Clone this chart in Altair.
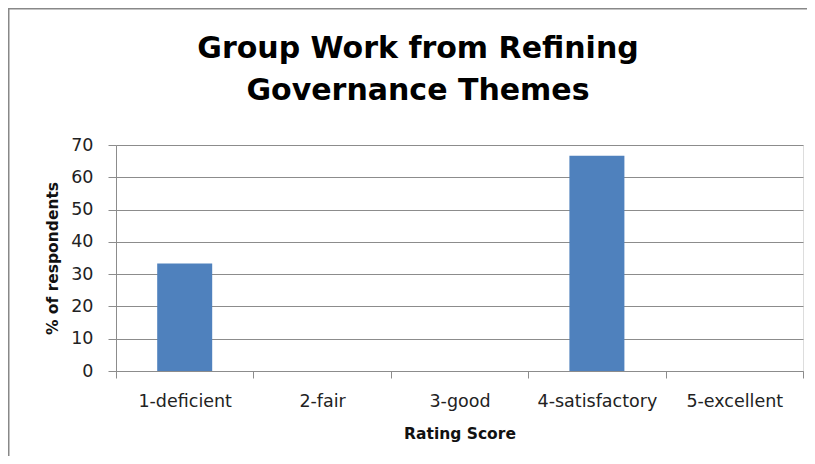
import altair as alt
import pandas as pd

categories = ["1-deficient", "2-fair", "3-good", "4-satisfactory", "5-excellent"]
percents = [33.33, 0, 0, 66.67, 0]
y_ticks = [0, 10, 20, 30, 40, 50, 60, 70]
title_lines = ["Group Work from Refining", "Governance Themes"]

df = pd.DataFrame({"Rating Score": categories, "pct": percents})
one = pd.DataFrame({"k": [0]})

FONT = "DejaVu Sans"
GRID = "#8C8C8C"
W, H = 687, 226
PL, PT = 108, 137

bars = alt.Chart(df).mark_bar(size=55, color="#4F81BD").encode(
    x=alt.X(
        "Rating Score:N",
        sort=categories,
        scale=alt.Scale(paddingInner=0, paddingOuter=0),
        axis=alt.Axis(
            title="Rating Score",
            labelAngle=0,
            labelFont=FONT,
            labelFontSize=17.5,
            labelColor="#222222",
            labelBaseline="alphabetic",
            labelPadding=28,
            tickBand="extent",
            tickSize=7,
            tickColor=GRID,
            domainColor=GRID,
            titleFont=FONT,
            titleFontSize=15.5,
            titleFontWeight="bold",
            titleColor="#111111",
            titleBaseline="alphabetic",
            titleY=67,
            grid=False,
        ),
    ),
    y=alt.Y(
        "pct:Q",
        scale=alt.Scale(domain=[0, 70], nice=False),
        axis=alt.Axis(
            title="% of respondents",
            values=y_ticks,
            labelFont=FONT,
            labelFontSize=17.5,
            labelColor="#222222",
            labelPadding=15,
            tickSize=8,
            tickColor=GRID,
            domainColor=GRID,
            gridColor=GRID,
            gridWidth=1,
            titleFont=FONT,
            titleFontSize=15.5,
            titleFontWeight="bold",
            titleColor="#111111",
            titleX=-56,
            titleY=H / 2,
        ),
    ),
)

title = alt.Chart(one).mark_text(
    font=FONT,
    fontSize=30,
    fontWeight="bold",
    color="#000000",
    align="center",
    baseline="alphabetic",
    lineHeight=42,
).encode(
    text=alt.value(title_lines),
    x=alt.value(302),
    y=alt.value(-87),
)

border_top = alt.Chart(one).mark_rule(color="#888888", strokeWidth=2).encode(
    x=alt.value(-PL), x2=alt.value(W + 30), y=alt.value(-PT + 0.5)
)
border_left = alt.Chart(one).mark_rule(color="#888888", strokeWidth=2).encode(
    x=alt.value(-PL + 0.5), y=alt.value(-PT), y2=alt.value(H + 120)
)

chart = alt.layer(bars, title, border_top, border_left).properties(
    width=W,
    height=H,
    autosize=alt.AutoSizeParams(type="none"),
    padding={"left": PL, "top": PT, "right": 4, "bottom": 85},
).configure_view(stroke=None).configure(background="white")

chart.save("out.html", embed_options={"renderer": "svg", "actions": False})
